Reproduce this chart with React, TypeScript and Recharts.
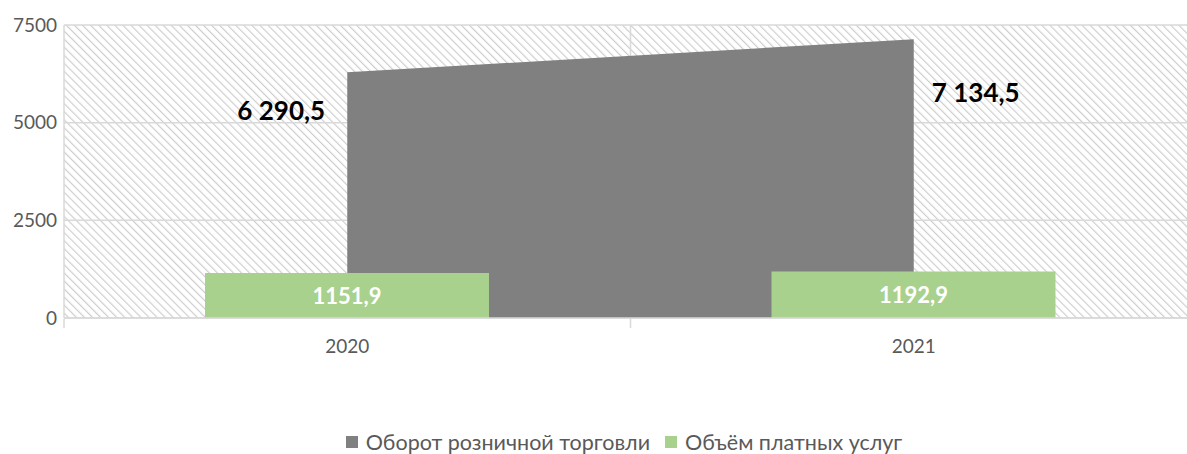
import { ComposedChart, Area, Bar, XAxis, YAxis, CartesianGrid, Legend } from "recharts";

const categories = ["2020", "2021"];
const retailTurnover = [6290.5, 7134.5];
const paidServices = [1151.9, 1192.9];
const yTicks = [0, 2500, 5000, 7500];
const boundaryTicks = [0, 1, 2];
const seriesNames = ["Оборот розничной торговли", "Объём платных услуг"];

const data = categories.map((year, i) => ({
  year,
  pos: i + 0.5,
  retail: retailTurnover[i],
  services: paidServices[i],
}));

const FONT = "Lato, 'Noto Sans', 'DejaVu Sans', sans-serif";
const GRID = "#d9d9d9";
const AXIS_TEXT = "#595959";
const GRAY = "#808080";
const GREEN = "#a9d18e";

// "6 290,5" style
const withSpaces = (v: number) => {
  const [int, dec] = v.toFixed(1).split(".");
  return int.replace(/\B(?=(\d{3})+(?!\d))/g, " ") + "," + dec;
};
const plain = (v: number) => v.toFixed(1).replace(".", ",");

const RetailLabel = (props: any) => {
  const { x, y, index, value } = props;
  const dx = index === 0 ? -66 : 62;
  const dy = index === 0 ? 38 : 53;
  return (
    <text
      x={x + dx}
      y={y + dy}
      textAnchor="middle"
      dominantBaseline="central"
      fontFamily={FONT}
      fontWeight={700}
      fontSize={26}
      fill="#000"
    >
      {withSpaces(value)}
    </text>
  );
};

const ServiceLabel = (props: any) => {
  const { x, y, width, height, value } = props;
  return (
    <text
      x={x + width / 2}
      y={y + height / 2}
      textAnchor="middle"
      dominantBaseline="central"
      fontFamily={FONT}
      fontWeight={700}
      fontSize={22}
      fill="#fff"
    >
      {plain(value)}
    </text>
  );
};

const LegendContent = () => (
  <div style={{ display: "flex", justifyContent: "center", alignItems: "center", fontFamily: FONT, fontSize: 21.5, lineHeight: "22px", color: AXIS_TEXT }}>
    {seriesNames.map((name, i) => (
      <div key={name} style={{ display: "flex", alignItems: "center", marginRight: i === 0 ? 15 : 0 }}>
        <span style={{ display: "inline-block", width: 12, height: 12, background: i === 0 ? GRAY : GREEN, marginRight: 8 }} />
        <span>{name}</span>
      </div>
    ))}
  </div>
);

export default function App() {
  return (
    <div style={{ position: "absolute", left: 0, top: 0, width: 1187, height: 454, overflow: "hidden", background: "#fff" }}>
      <ComposedChart width={1240} height={454} data={data} margin={{ top: 25, right: 43, left: 14, bottom: 134 }}>
        <defs>
          <pattern id="hatch" patternUnits="userSpaceOnUse" width={5.7} height={5.7} patternTransform="rotate(-45)">
            <rect width={5.7} height={5.7} fill="#fff" />
            <line x1={0.6} y1={0} x2={0.6} y2={5.7} stroke="#cbcbcb" strokeWidth={1.1} />
          </pattern>
        </defs>
        <CartesianGrid
          xAxisId="grid"
          stroke={GRID}
          strokeWidth={1.5}
          fill="url(#hatch)"
          fillOpacity={1}
        />
        <XAxis
          xAxisId="grid"
          type="number"
          dataKey="pos"
          domain={[0, 2]}
          ticks={boundaryTicks}
          tickFormatter={() => ""}
          tickSize={9}
          tickLine={{ stroke: GRID, strokeWidth: 1.5 }}
          axisLine={false}
          height={1}
        />
        <XAxis
          xAxisId="cat"
          dataKey="year"
          tickLine={false}
          tickSize={0}
          tickMargin={22}
          axisLine={{ stroke: GRID, strokeWidth: 1.5 }}
          height={1}
          tick={{ fill: AXIS_TEXT, fontSize: 19, fontFamily: FONT }}
        />
        <YAxis
          domain={[0, 7500]}
          ticks={yTicks}
          width={50}
          tickSize={0}
          tickMargin={7}
          axisLine={false}
          tickLine={false}
          tick={{ fill: AXIS_TEXT, fontSize: 19, fontFamily: FONT }}
        />
        <Area
          xAxisId="cat"
          type="linear"
          dataKey="retail"
          name={seriesNames[0]}
          fill={GRAY}
          fillOpacity={1}
          stroke="none"
          isAnimationActive={false}
          label={RetailLabel}
        />
        <Bar
          xAxisId="cat"
          dataKey="services"
          name={seriesNames[1]}
          fill={GREEN}
          barSize={284}
          isAnimationActive={false}
          label={ServiceLabel}
        />
        <Legend
          layout="horizontal"
          verticalAlign="middle"
          align="center"
          content={LegendContent}
          wrapperStyle={{ top: 431, left: 8, width: 1232 }}
        />
      </ComposedChart>
    </div>
  );
}
